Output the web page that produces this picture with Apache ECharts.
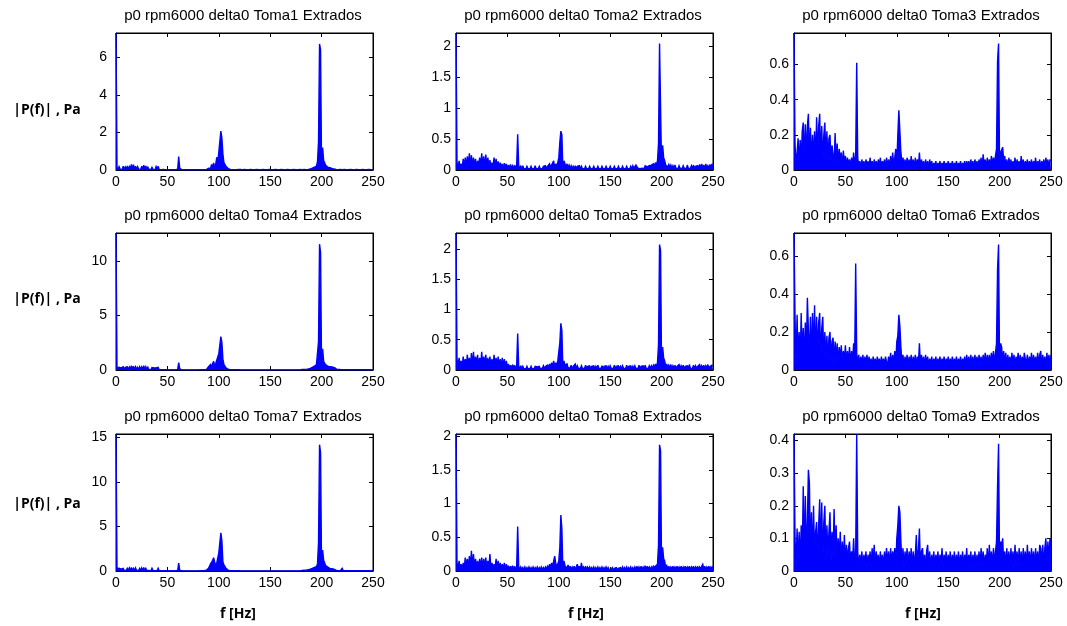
<!DOCTYPE html>
<html>
<head>
<meta charset="utf-8">
<script src="https://cdn.jsdelivr.net/npm/echarts@6/dist/echarts.min.js"></script>
<style>
html,body{margin:0;padding:0;background:#fff;}
#chart{width:1067px;height:626px;}
</style>
</head>
<body>
<div id="chart"></div>
<script>
// ---- DATA ----
const titles = [
  'p0 rpm6000 delta0 Toma1 Extrados','p0 rpm6000 delta0 Toma2 Extrados','p0 rpm6000 delta0 Toma3 Extrados',
  'p0 rpm6000 delta0 Toma4 Extrados','p0 rpm6000 delta0 Toma5 Extrados','p0 rpm6000 delta0 Toma6 Extrados',
  'p0 rpm6000 delta0 Toma7 Extrados','p0 rpm6000 delta0 Toma8 Extrados','p0 rpm6000 delta0 Toma9 Extrados'
];
const yLabel = '|P(f)| , Pa';
const xLabel = 'f [Hz]';
const freqStartHz = 0;   // first spectrum bin
const freqStepHz = 1;    // bin width
const xTicks = [0, 50, 100, 150, 200, 250];
const yMax = [7.3, 2.22, 0.78, 12.6, 2.26, 0.72, 15.4, 2.03, 0.42];
const yInterval = [2, 0.5, 0.2, 5, 0.5, 0.2, 5, 0.5, 0.1];

const toma1 = [
7.3,0.15,0.03,0.18,0.05,0.12,0.02,0.2,0.04,0.16,
0.05,0.22,0.03,0.18,0.06,0.3,0.04,0.28,0.05,0.2,
0.03,0.18,0.05,0.15,0.02,0.2,0.04,0.26,0.05,0.22,
0.03,0.15,0.04,0.12,0.02,0.14,0.03,0.1,0.02,0.18,
0.04,0.2,0.03,0.12,0.02,0.1,0.03,0.08,0.02,0.06,
0.02,0.05,0.01,0.04,0.02,0.05,0.01,0.04,0.02,0.08,
0.05,0.72,0.1,0.03,0.01,0.03,0.01,0.02,0.01,0.03,
0.01,0.02,0.01,0.03,0.01,0.02,0.01,0.03,0.01,0.02,
0.01,0.03,0.01,0.02,0.01,0.04,0.01,0.03,0.02,0.05,
0.1,0.2,0.08,0.3,0.15,0.38,0.12,0.3,0.68,0.4,
0.95,1.0,2.07,1.72,0.85,0.4,0.3,0.2,0.12,0.08,
0.05,0.03,0.04,0.02,0.03,0.02,0.04,0.02,0.12,0.03,
0.02,0.03,0.01,0.02,0.01,0.03,0.01,0.02,0.01,0.02,
0.01,0.03,0.01,0.02,0.01,0.02,0.01,0.03,0.01,0.02,
0.01,0.02,0.01,0.03,0.01,0.02,0.01,0.02,0.01,0.03,
0.01,0.02,0.01,0.02,0.01,0.03,0.01,0.02,0.01,0.02,
0.01,0.03,0.01,0.02,0.01,0.02,0.01,0.03,0.01,0.02,
0.01,0.02,0.01,0.03,0.01,0.02,0.01,0.02,0.01,0.03,
0.01,0.02,0.01,0.03,0.01,0.02,0.02,0.03,0.02,0.05,
0.05,0.1,0.08,0.15,0.12,0.2,0.45,1.5,6.72,6.4,
0.0,1.2,0.5,0.5,0.25,0.2,0.15,0.1,0.12,0.06,
0.08,0.04,0.05,0.02,0.03,0.01,0.02,0.01,0.03,0.01,
0.02,0.01,0.03,0.01,0.02,0.01,0.02,0.01,0.03,0.01,
0.02,0.01,0.02,0.01,0.03,0.01,0.02,0.01,0.02,0.01,
0.03,0.01,0.02,0.01,0.02,0.01,0.03,0.01,0.02,0.01,
0.02];

const toma2 = [
2.22,0.12,0.04,0.15,0.05,0.1,0.03,0.18,0.06,0.2,
0.05,0.22,0.08,0.27,0.06,0.24,0.05,0.2,0.07,0.18,
0.04,0.15,0.06,0.2,0.05,0.27,0.06,0.22,0.04,0.25,
0.06,0.2,0.05,0.16,0.04,0.12,0.05,0.2,0.06,0.18,
0.05,0.14,0.04,0.12,0.05,0.1,0.03,0.11,0.04,0.1,
0.03,0.08,0.02,0.09,0.03,0.07,0.02,0.08,0.03,0.07,
0.58,0.08,0.02,0.06,0.02,0.07,0.02,0.05,0.02,0.06,
0.02,0.05,0.02,0.06,0.02,0.05,0.02,0.07,0.02,0.05,
0.02,0.06,0.02,0.05,0.02,0.06,0.03,0.07,0.02,0.06,
0.03,0.1,0.04,0.08,0.05,0.15,0.04,0.1,0.06,0.12,
0.2,0.45,0.63,0.57,0.0,0.15,0.1,0.05,0.1,0.04,
0.08,0.03,0.07,0.02,0.06,0.02,0.07,0.02,0.06,0.03,
0.07,0.02,0.06,0.02,0.05,0.02,0.06,0.02,0.05,0.02,
0.06,0.02,0.05,0.02,0.06,0.02,0.05,0.02,0.06,0.02,
0.05,0.02,0.06,0.02,0.05,0.02,0.06,0.02,0.05,0.02,
0.06,0.02,0.05,0.02,0.06,0.02,0.05,0.02,0.06,0.02,
0.05,0.02,0.06,0.02,0.05,0.02,0.06,0.02,0.05,0.02,
0.06,0.02,0.07,0.03,0.06,0.08,0.05,0.03,0.06,0.02,
0.05,0.03,0.06,0.02,0.07,0.09,0.05,0.03,0.07,0.04,
0.08,0.05,0.1,0.06,0.12,0.08,0.15,0.43,2.05,2.02,
0.0,0.4,0.2,0.15,0.08,0.1,0.05,0.09,0.04,0.08,
0.03,0.07,0.03,0.08,0.03,0.06,0.02,0.07,0.03,0.06,
0.02,0.07,0.03,0.06,0.02,0.08,0.03,0.06,0.02,0.07,
0.03,0.08,0.02,0.06,0.03,0.07,0.02,0.09,0.03,0.1,
0.03,0.08,0.02,0.1,0.03,0.07,0.02,0.09,0.03,0.1,
0.05];

const toma3 = [
0.78,0.15,0.02,0.1,0.18,0.03,0.17,0.05,0.22,0.27,
0.04,0.26,0.08,0.25,0.32,0.05,0.24,0.03,0.2,0.06,
0.22,0.04,0.3,0.08,0.25,0.32,0.05,0.25,0.03,0.2,
0.27,0.06,0.22,0.04,0.18,0.2,0.05,0.14,0.15,0.03,
0.21,0.04,0.15,0.03,0.12,0.05,0.1,0.02,0.11,0.04,
0.08,0.02,0.07,0.03,0.06,0.02,0.07,0.02,0.1,0.03,
0.08,0.61,0.07,0.02,0.05,0.01,0.06,0.02,0.05,0.01,
0.06,0.02,0.05,0.01,0.07,0.02,0.05,0.01,0.06,0.02,
0.05,0.01,0.06,0.02,0.07,0.01,0.05,0.02,0.06,0.01,
0.07,0.02,0.06,0.01,0.08,0.02,0.1,0.02,0.07,0.12,
0.03,0.2,0.34,0.22,0.1,0.04,0.07,0.02,0.06,0.01,
0.07,0.02,0.06,0.01,0.08,0.02,0.06,0.01,0.07,0.02,
0.06,0.02,0.1,0.01,0.06,0.02,0.05,0.01,0.06,0.02,
0.05,0.01,0.06,0.02,0.05,0.01,0.04,0.02,0.05,0.01,
0.04,0.02,0.05,0.01,0.04,0.02,0.05,0.01,0.04,0.02,
0.05,0.01,0.04,0.02,0.05,0.01,0.04,0.02,0.05,0.01,
0.04,0.02,0.05,0.01,0.04,0.02,0.05,0.01,0.05,0.02,
0.05,0.01,0.06,0.02,0.05,0.01,0.06,0.02,0.05,0.01,
0.06,0.02,0.07,0.01,0.09,0.02,0.06,0.01,0.07,0.02,
0.06,0.02,0.08,0.03,0.07,0.04,0.08,0.12,0.62,0.72,
0.0,0.1,0.09,0.13,0.05,0.08,0.02,0.06,0.01,0.07,
0.02,0.06,0.01,0.05,0.02,0.07,0.01,0.06,0.02,0.05,
0.01,0.08,0.02,0.06,0.01,0.05,0.02,0.06,0.01,0.05,
0.02,0.06,0.01,0.05,0.02,0.07,0.01,0.05,0.02,0.06,
0.01,0.05,0.02,0.06,0.01,0.07,0.02,0.06,0.01,0.06,
0.05];

const toma4 = [
12.6,0.2,0.05,0.25,0.08,0.2,0.05,0.3,0.06,0.25,
0.07,0.3,0.05,0.28,0.08,0.4,0.06,0.35,0.05,0.3,
0.06,0.25,0.05,0.3,0.04,0.28,0.06,0.4,0.05,0.3,
0.04,0.25,0.05,0.2,0.03,0.22,0.04,0.18,0.03,0.2,
0.04,0.25,0.03,0.15,0.02,0.12,0.03,0.1,0.02,0.08,
0.02,0.06,0.01,0.05,0.02,0.06,0.01,0.05,0.02,0.07,
0.05,0.68,0.1,0.03,0.01,0.04,0.01,0.03,0.01,0.04,
0.01,0.03,0.01,0.04,0.01,0.03,0.01,0.04,0.01,0.03,
0.01,0.04,0.02,0.05,0.02,0.06,0.03,0.08,0.05,0.15,
0.3,0.2,0.5,0.3,0.6,0.8,0.4,0.6,0.9,1.0,
1.5,1.6,3.08,2.55,1.0,0.5,0.4,0.2,0.15,0.08,
0.05,0.03,0.04,0.02,0.03,0.02,0.04,0.02,0.05,0.02,
0.03,0.01,0.02,0.01,0.03,0.01,0.02,0.01,0.03,0.01,
0.02,0.01,0.03,0.01,0.02,0.01,0.03,0.01,0.02,0.01,
0.03,0.01,0.02,0.01,0.03,0.01,0.02,0.01,0.02,0.01,
0.03,0.01,0.02,0.01,0.02,0.01,0.03,0.01,0.02,0.01,
0.02,0.01,0.03,0.01,0.02,0.01,0.02,0.01,0.03,0.01,
0.02,0.01,0.03,0.01,0.02,0.01,0.03,0.01,0.02,0.01,
0.02,0.04,0.02,0.05,0.03,0.06,0.05,0.1,0.08,0.15,
0.12,0.25,0.2,0.35,0.3,0.5,0.6,2.62,11.57,10.8,
0.0,1.96,0.8,0.6,0.5,0.4,0.35,0.3,0.25,0.3,
0.2,0.25,0.15,0.2,0.1,0.05,0.03,0.04,0.02,0.03,
0.01,0.02,0.01,0.03,0.01,0.02,0.01,0.02,0.01,0.03,
0.01,0.02,0.01,0.02,0.01,0.03,0.01,0.02,0.01,0.02,
0.01,0.03,0.01,0.02,0.01,0.02,0.01,0.03,0.01,0.02,
0.01];

const toma5 = [
2.26,0.18,0.06,0.2,0.08,0.15,0.05,0.22,0.07,0.18,
0.06,0.25,0.08,0.2,0.05,0.28,0.07,0.3,0.06,0.22,
0.08,0.25,0.05,0.2,0.07,0.3,0.06,0.22,0.08,0.25,
0.05,0.2,0.07,0.22,0.06,0.18,0.05,0.25,0.07,0.2,
0.05,0.22,0.06,0.18,0.05,0.2,0.07,0.18,0.05,0.15,
0.04,0.1,0.03,0.08,0.02,0.09,0.03,0.08,0.02,0.07,
0.6,0.06,0.02,0.07,0.02,0.06,0.02,0.05,0.02,0.06,
0.02,0.05,0.02,0.06,0.02,0.05,0.02,0.06,0.03,0.05,
0.02,0.06,0.02,0.05,0.03,0.07,0.02,0.06,0.03,0.08,
0.03,0.1,0.05,0.12,0.06,0.15,0.05,0.12,0.08,0.15,
0.3,0.45,0.77,0.65,0.0,0.15,0.08,0.05,0.1,0.04,
0.07,0.03,0.08,0.02,0.06,0.03,0.1,0.02,0.07,0.03,
0.06,0.02,0.07,0.03,0.06,0.02,0.08,0.02,0.06,0.03,
0.07,0.02,0.06,0.03,0.07,0.02,0.06,0.02,0.08,0.03,
0.06,0.02,0.07,0.02,0.06,0.03,0.07,0.02,0.06,0.02,
0.07,0.03,0.06,0.02,0.08,0.02,0.06,0.03,0.07,0.02,
0.06,0.02,0.07,0.03,0.06,0.02,0.08,0.02,0.06,0.03,
0.07,0.02,0.06,0.02,0.07,0.03,0.06,0.02,0.08,0.02,
0.06,0.03,0.07,0.02,0.08,0.03,0.06,0.02,0.07,0.03,
0.07,0.03,0.08,0.04,0.1,0.06,0.12,0.42,2.07,1.97,
0.0,0.38,0.2,0.15,0.06,0.1,0.04,0.08,0.03,0.09,
0.02,0.07,0.03,0.08,0.02,0.06,0.03,0.09,0.02,0.07,
0.03,0.08,0.02,0.06,0.03,0.07,0.02,0.09,0.03,0.06,
0.02,0.08,0.03,0.07,0.02,0.06,0.03,0.09,0.02,0.07,
0.03,0.08,0.02,0.07,0.03,0.09,0.02,0.06,0.03,0.08,
0.06];

const toma6 = [
0.72,0.28,0.02,0.29,0.05,0.2,0.03,0.3,0.06,0.22,
0.04,0.25,0.08,0.38,0.37,0.05,0.28,0.03,0.3,0.06,
0.34,0.04,0.28,0.07,0.25,0.3,0.05,0.22,0.28,0.04,
0.2,0.06,0.18,0.04,0.17,0.2,0.05,0.15,0.17,0.03,
0.15,0.05,0.14,0.03,0.12,0.06,0.13,0.04,0.1,0.05,
0.13,0.03,0.1,0.04,0.12,0.03,0.1,0.04,0.14,0.05,
0.56,0.09,0.03,0.08,0.02,0.07,0.03,0.08,0.02,0.07,
0.03,0.08,0.02,0.07,0.03,0.06,0.02,0.07,0.03,0.06,
0.02,0.07,0.03,0.06,0.02,0.07,0.03,0.06,0.02,0.07,
0.08,0.02,0.07,0.03,0.09,0.02,0.08,0.03,0.1,0.04,
0.15,0.18,0.29,0.23,0.12,0.04,0.08,0.02,0.07,0.03,
0.08,0.02,0.07,0.03,0.08,0.02,0.07,0.03,0.08,0.02,
0.07,0.03,0.14,0.02,0.08,0.03,0.07,0.02,0.08,0.03,
0.07,0.02,0.06,0.03,0.07,0.02,0.06,0.03,0.07,0.02,
0.06,0.03,0.07,0.02,0.06,0.03,0.07,0.02,0.06,0.03,
0.07,0.02,0.06,0.03,0.07,0.02,0.06,0.03,0.07,0.02,
0.06,0.03,0.07,0.02,0.06,0.03,0.07,0.02,0.08,0.03,
0.07,0.02,0.08,0.03,0.07,0.02,0.08,0.03,0.07,0.02,
0.08,0.03,0.07,0.02,0.08,0.03,0.09,0.02,0.08,0.03,
0.08,0.03,0.09,0.04,0.1,0.03,0.09,0.14,0.53,0.66,
0.0,0.14,0.12,0.05,0.1,0.03,0.09,0.02,0.08,0.03,
0.07,0.02,0.09,0.03,0.08,0.02,0.07,0.03,0.09,0.02,
0.08,0.03,0.07,0.02,0.09,0.1,0.03,0.08,0.02,0.07,
0.03,0.09,0.02,0.08,0.03,0.07,0.02,0.09,0.03,0.08,
0.1,0.02,0.08,0.03,0.07,0.02,0.09,0.03,0.08,0.02,
0.08];

const toma7 = [
15.4,0.25,0.05,0.3,0.08,0.2,0.05,0.3,0.06,0.25,
0.07,0.3,0.05,0.35,0.08,0.4,0.06,0.3,0.05,0.35,
0.06,0.25,0.05,0.3,0.04,0.35,0.06,0.4,0.05,0.3,
0.04,0.25,0.05,0.2,0.03,0.3,0.04,0.2,0.03,0.25,
0.04,0.3,0.03,0.15,0.02,0.12,0.03,0.1,0.02,0.08,
0.02,0.06,0.01,0.05,0.02,0.06,0.01,0.05,0.02,0.07,
0.05,0.9,0.1,0.03,0.01,0.04,0.01,0.03,0.01,0.04,
0.01,0.03,0.01,0.04,0.01,0.03,0.01,0.04,0.01,0.03,
0.01,0.04,0.02,0.05,0.02,0.08,0.05,0.1,0.1,0.2,
0.3,0.5,0.8,0.6,1.2,1.49,1.0,0.6,0.9,1.1,
2.05,2.1,4.29,3.43,1.0,0.7,0.5,0.3,0.2,0.1,
0.05,0.03,0.04,0.02,0.03,0.02,0.04,0.02,0.05,0.02,
0.03,0.01,0.02,0.01,0.03,0.01,0.02,0.01,0.03,0.01,
0.02,0.01,0.03,0.01,0.02,0.01,0.03,0.01,0.02,0.01,
0.03,0.01,0.02,0.01,0.03,0.01,0.02,0.01,0.02,0.01,
0.03,0.01,0.02,0.01,0.02,0.01,0.03,0.01,0.02,0.01,
0.02,0.01,0.03,0.01,0.02,0.01,0.02,0.01,0.03,0.01,
0.02,0.01,0.03,0.01,0.02,0.01,0.03,0.01,0.02,0.01,
0.02,0.05,0.03,0.08,0.05,0.1,0.08,0.15,0.12,0.2,
0.2,0.3,0.25,0.4,0.35,0.5,0.8,3.17,14.2,13.3,
0.0,2.35,1.2,0.9,0.6,0.5,0.45,0.4,0.3,0.35,
0.25,0.3,0.2,0.15,0.1,0.05,0.03,0.04,0.02,0.05,
0.3,0.05,0.02,0.03,0.01,0.02,0.01,0.03,0.01,0.02,
0.01,0.02,0.01,0.03,0.01,0.02,0.01,0.02,0.01,0.03,
0.01,0.02,0.01,0.02,0.01,0.03,0.01,0.02,0.01,0.02,
0.01];

const toma8 = [
2.03,0.12,0.03,0.15,0.04,0.1,0.02,0.12,0.04,0.2,
0.05,0.18,0.04,0.22,0.06,0.3,0.05,0.25,0.04,0.18,
0.05,0.15,0.03,0.18,0.05,0.2,0.04,0.18,0.05,0.2,
0.04,0.15,0.05,0.25,0.03,0.12,0.04,0.1,0.03,0.18,
0.04,0.15,0.03,0.12,0.04,0.1,0.03,0.12,0.02,0.1,
0.03,0.08,0.02,0.07,0.03,0.08,0.02,0.07,0.03,0.06,
0.66,0.07,0.02,0.06,0.02,0.05,0.02,0.06,0.02,0.05,
0.02,0.06,0.02,0.05,0.02,0.06,0.02,0.05,0.02,0.06,
0.02,0.05,0.02,0.06,0.02,0.05,0.02,0.06,0.03,0.07,
0.04,0.1,0.05,0.12,0.06,0.15,0.22,0.12,0.06,0.08,
0.15,0.35,0.83,0.62,0.0,0.15,0.08,0.1,0.04,0.09,
0.03,0.07,0.02,0.06,0.03,0.07,0.02,0.06,0.1,0.03,
0.07,0.02,0.12,0.03,0.06,0.02,0.07,0.02,0.06,0.03,
0.06,0.02,0.05,0.02,0.06,0.02,0.05,0.02,0.06,0.02,
0.05,0.02,0.06,0.02,0.05,0.02,0.06,0.02,0.05,0.02,
0.04,0.02,0.05,0.01,0.04,0.02,0.05,0.01,0.04,0.02,
0.05,0.02,0.06,0.02,0.05,0.02,0.06,0.02,0.05,0.02,
0.06,0.02,0.05,0.02,0.06,0.02,0.07,0.02,0.06,0.02,
0.07,0.02,0.06,0.03,0.08,0.02,0.07,0.03,0.06,0.02,
0.06,0.03,0.08,0.04,0.07,0.05,0.1,0.38,1.87,1.78,
0.0,0.35,0.18,0.15,0.05,0.08,0.03,0.07,0.02,0.06,
0.03,0.07,0.02,0.06,0.03,0.07,0.02,0.06,0.03,0.07,
0.02,0.06,0.03,0.07,0.02,0.06,0.03,0.07,0.02,0.06,
0.03,0.07,0.02,0.06,0.03,0.07,0.02,0.06,0.03,0.07,
0.1,0.03,0.07,0.02,0.06,0.03,0.07,0.02,0.06,0.03,
0.07];

const toma9 = [
0.42,0.1,0.01,0.13,0.03,0.12,0.02,0.14,0.04,0.26,
0.02,0.23,0.05,0.15,0.31,0.27,0.04,0.18,0.02,0.2,
0.05,0.12,0.15,0.03,0.14,0.22,0.04,0.21,0.02,0.15,
0.2,0.03,0.14,0.05,0.12,0.18,0.03,0.12,0.04,0.19,
0.05,0.14,0.03,0.1,0.04,0.12,0.02,0.09,0.03,0.11,
0.02,0.08,0.03,0.07,0.09,0.02,0.06,0.03,0.1,0.02,
0.05,0.42,0.06,0.01,0.05,0.02,0.06,0.01,0.05,0.02,
0.06,0.01,0.05,0.02,0.06,0.01,0.07,0.02,0.08,0.01,
0.06,0.02,0.05,0.01,0.06,0.02,0.05,0.01,0.06,0.02,
0.07,0.02,0.06,0.01,0.07,0.02,0.06,0.03,0.07,0.02,
0.1,0.14,0.2,0.18,0.09,0.02,0.07,0.01,0.06,0.02,
0.07,0.01,0.06,0.02,0.07,0.01,0.06,0.02,0.05,0.11,
0.02,0.06,0.13,0.01,0.06,0.07,0.02,0.05,0.01,0.06,
0.08,0.02,0.06,0.01,0.05,0.02,0.06,0.01,0.05,0.02,
0.06,0.01,0.05,0.02,0.07,0.01,0.05,0.02,0.06,0.01,
0.05,0.02,0.06,0.01,0.05,0.02,0.06,0.01,0.05,0.02,
0.06,0.01,0.05,0.02,0.06,0.01,0.05,0.02,0.07,0.01,
0.05,0.02,0.06,0.01,0.05,0.02,0.06,0.01,0.05,0.02,
0.06,0.01,0.07,0.02,0.06,0.01,0.05,0.02,0.07,0.01,
0.08,0.02,0.06,0.01,0.07,0.02,0.06,0.09,0.26,0.39,
0.0,0.09,0.08,0.1,0.02,0.06,0.01,0.07,0.02,0.06,
0.01,0.07,0.02,0.06,0.01,0.08,0.02,0.06,0.01,0.07,
0.02,0.06,0.01,0.07,0.02,0.06,0.01,0.08,0.02,0.06,
0.01,0.07,0.02,0.06,0.01,0.07,0.02,0.06,0.01,0.08,
0.07,0.02,0.08,0.01,0.07,0.1,0.02,0.09,0.03,0.1,
0.08];

const spectra = [toma1, toma2, toma3, toma4, toma5, toma6, toma7, toma8, toma9];

// ---- LAYOUT ----
const colLeft = [116, 456, 794];
const rowTop = [33, 233, 434];
const plotW = 257, plotH = 137;
const yLabelMargin = [9, 5, 5];
const titleCx = [243, 583, 921];
const titleCy = [16, 216, 417];
const yNameCy = [110, 299, 504];
const xNameCx = [238, 586, 923];

const tickFont = 'Liberation Sans';
const grids = [], xAxes = [], yAxes = [], series = [], graphics = [];

function fmt(iv) {
  return function (v) {
    const q = v / iv;
    if (Math.abs(q - Math.round(q)) > 1e-6) return '';
    return String(+v.toFixed(4));
  };
}

for (let i = 0; i < 9; i++) {
  const r = Math.floor(i / 3), c = i % 3;
  grids.push({left: colLeft[c], top: rowTop[r], width: plotW, height: plotH,
    show: true, borderColor: '#000', borderWidth: 1, backgroundColor: '#fff'});
  const axLine = {show: true, onZero: false, lineStyle: {color: '#000', width: 1}};
  const tick = {show: true, inside: true, length: 4, lineStyle: {color: '#000', width: 1}};
  xAxes.push({gridIndex: i, type: 'value', position: 'bottom', min: 0, max: 250, interval: 50,
    axisLine: axLine, axisTick: tick, splitLine: {show: false},
    axisLabel: {color: '#000', fontSize: 14, fontFamily: tickFont, margin: 5,
      showMinLabel: true, showMaxLabel: true}});
  xAxes.push({gridIndex: i, type: 'value', position: 'top', min: 0, max: 250, interval: 50,
    axisLine: axLine, axisTick: tick, splitLine: {show: false}, axisLabel: {show: false}});
  yAxes.push({gridIndex: i, type: 'value', position: 'left', min: 0, max: yMax[i], interval: yInterval[i],
    axisLine: axLine, axisTick: tick, splitLine: {show: false},
    axisLabel: {color: '#000', fontSize: 14, fontFamily: tickFont, margin: yLabelMargin[c],
      formatter: fmt(yInterval[i]), showMaxLabel: true}});
  yAxes.push({gridIndex: i, type: 'value', position: 'right', min: 0, max: yMax[i], interval: yInterval[i],
    axisLine: axLine, axisTick: tick, splitLine: {show: false}, axisLabel: {show: false}});
  series.push({type: 'line', xAxisIndex: 2 * i, yAxisIndex: 2 * i,
    data: spectra[i].map((v, k) => [freqStartHz + k * freqStepHz, v]),
    showSymbol: false, symbol: 'none', clip: true, silent: true, z: 5,
    lineStyle: {color: '#0000ff', width: 1.4, join: 'miter', miterLimit: 3},
    areaStyle: {color: '#0000ff', opacity: 1, origin: 'start'}});
  graphics.push({type: 'text', x: titleCx[c], y: titleCy[r], silent: true,
    style: {text: titles[i], fontSize: 15, fontFamily: tickFont, fill: '#000',
      align: 'center', verticalAlign: 'middle'}});
}
for (let r = 0; r < 3; r++) {
  graphics.push({type: 'text', x: 47, y: yNameCy[r], silent: true,
    style: {text: yLabel, fontSize: 14, fontWeight: 'bold', fontFamily: 'Open Sans', fill: '#000',
      align: 'center', verticalAlign: 'middle'}});
}
for (let c = 0; c < 3; c++) {
  graphics.push({type: 'text', x: xNameCx[c], y: 614, silent: true,
    style: {text: xLabel, fontSize: 14, fontWeight: 'bold', fontFamily: 'Open Sans', fill: '#000',
      align: 'center', verticalAlign: 'middle'}});
}

const chart = echarts.init(document.getElementById('chart'), null, {renderer: 'canvas'});
chart.setOption({
  animation: false,
  backgroundColor: '#fff',
  grid: grids, xAxis: xAxes, yAxis: yAxes, series: series, graphic: graphics
});
</script>
</body>
</html>
